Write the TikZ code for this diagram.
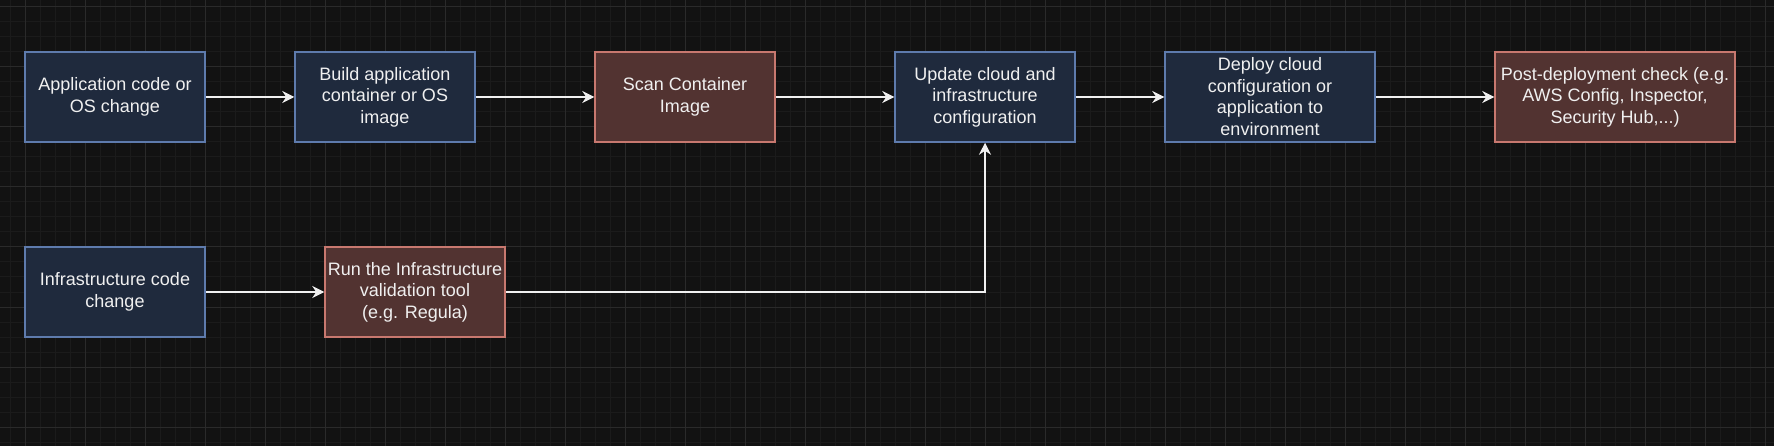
\documentclass[tikz,border=0pt]{standalone}
\usepackage{fontspec}
\setmainfont{Liberation Sans}
\usetikzlibrary{arrows.meta}
\definecolor{bgc}{HTML}{121212}
\definecolor{gridminor}{HTML}{1B1B1B}
\definecolor{gridmajor}{HTML}{2A2A2A}
\definecolor{bluefill}{HTML}{1F2A3D}
\definecolor{bluedraw}{HTML}{5E7BAD}
\definecolor{redfill}{HTML}{523331}
\definecolor{reddraw}{HTML}{C8786F}
\definecolor{fg}{HTML}{F0F0F0}
\tikzset{
  box/.style={rectangle, line width=1.5pt, minimum height=90pt, minimum width=180pt,
    inner sep=0pt, align=center, text=fg, font=\fontsize{18pt}{21.6pt}\selectfont,
    execute at begin node={\rule{0pt}{20.3pt}},
    execute at end node={\rule[-1.3pt]{0pt}{1.3pt}}},
  bluebox/.style={box, fill=bluefill, draw=bluedraw},
  redbox/.style={box, fill=redfill, draw=reddraw},
  conn/.style={draw=fg, line width=1.5pt, -{Stealth[length=12pt, width=12pt, inset=4pt]}},
}
\begin{document}
\begin{tikzpicture}[x=1pt, y=-1pt]
\useasboundingbox (0,0) rectangle (1774,446);
\fill[bgc] (0,0) rectangle (1774,446);
\foreach \x in {10,25,...,1774} \draw[gridminor, line width=1pt] (\x,0) -- (\x,446);
\foreach \y in {7,22,...,446} \draw[gridminor, line width=1pt] (0,\y) -- (1774,\y);
\foreach \x in {25,85,...,1774} \draw[gridmajor, line width=1pt] (\x,0) -- (\x,446);
\foreach \y in {7,67,...,446} \draw[gridmajor, line width=1pt] (0,\y) -- (1774,\y);

\node[bluebox] (b1) at (115,97) {Application code or\\OS change};
\node[bluebox] (b2) at (385,97) {Build application\\container or OS\\image};
\node[redbox]  (b3) at (685,97) {Scan Container\\Image};
\node[bluebox] (b4) at (985,97) {Update cloud and\\infrastructure\\configuration};
\node[bluebox, minimum width=210pt] (b5) at (1270,97) {Deploy cloud\\configuration or\\application to\\environment};
\node[redbox, minimum width=240pt] (b6) at (1615,97) {Post-deployment check (e.g.\\AWS Config, Inspector,\\Security Hub,...)};
\node[bluebox] (i1) at (115,292) {Infrastructure code\\change};
\node[redbox]  (i2) at (415,292) {Run the Infrastructure\\validation tool\\(e.g. Regula)};

\draw[conn] (b1) -- (b2);
\draw[conn] (b2) -- (b3);
\draw[conn] (b3) -- (b4);
\draw[conn] (b4) -- (b5);
\draw[conn] (b5) -- (b6);
\draw[conn] (i1) -- (i2);
\draw[conn] (i2.east) -| (b4.south);
\end{tikzpicture}
\end{document}
